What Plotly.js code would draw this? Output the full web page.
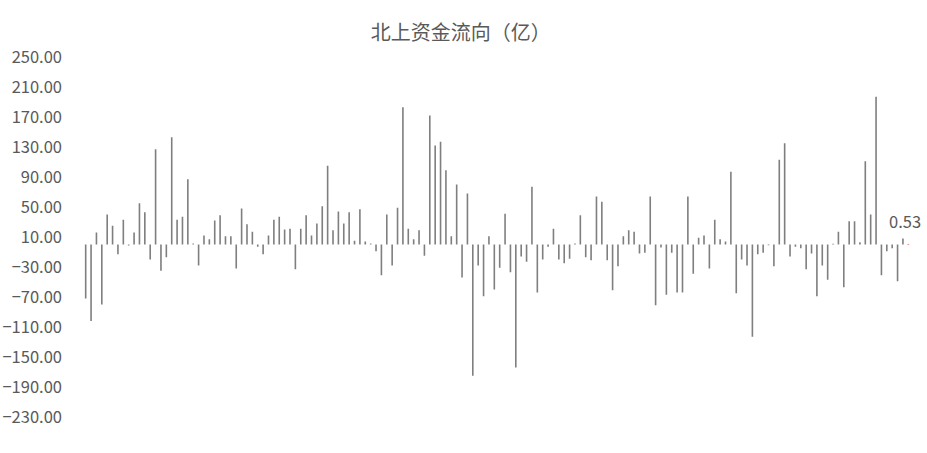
<!DOCTYPE html>
<html>
<head>
<meta charset="utf-8">
<script src="https://cdn.plot.ly/plotly-3.0.1.min.js"></script>
<style>html,body{margin:0;padding:0;background:#fff;}#chart{width:927px;height:453px;}</style>
</head>
<body>
<div id="chart"></div>
<script>
const titleText = "北上资金流向（亿）";
const flows = [
  -72, -102, 16, -80, 40, 25, -13, 33, -1.3, 16,
  55, 43, -20, 127, -35, -17, 143, 33, 37, 87,
  1.3, -28, 12, 7, 32, 39, 11, 11, -32, 48,
  27, 17, -3, -13, 12, 33, 37, 20, 21, -33,
  21, 39, 12, 28, 51, 105, 19, 44, 28, 43,
  5, 47, 4, 1.3, -9, -41, 40, -28, 49, 183,
  21, 7, 19, -15, 172, 132, 137, 99, 11, 80,
  -44, 68, -175, -28, -69, 11, -60, -31, 41, -37,
  -164, -16, -23, 77, -64, -20, -3, 21, -20, -25,
  -19, 1.3, 39, -17, -21, 64, 57, -21, -61, -29,
  11, 19, 17, -12, -11, 64, -81, -4, -67, -11,
  -64, -64, 64, -39, 9, 12, -32, 33, 7, 4,
  97, -65, -20, -28, -123, -13, -11, -1, -29, 113,
  135, -16, -3, -5, -33, -12, -69, -28, -47, 1,
  17, -57, 31, 31, 3, 111, 40, 197, -41, -9,
  -5, -49, 8, 0.53
];
const days = flows.map((v, i) => "D" + (i + 1));
const yTickVals = [250, 210, 170, 130, 90, 50, 10, -30, -70, -110, -150, -190, -230];

const barColors = flows.map((v, i) => i === flows.length - 1 ? "#C00000" : "#7F7F7F");
const lastIdx = flows.length - 1;

const trace = {
  type: "bar",
  x: days,
  y: flows,
  marker: {color: barColors, line: {width: 0}},
  hoverinfo: "x+y"
};

const layout = {
  width: 927,
  height: 453,
  margin: {l: 83, r: 16, t: 57, b: 36},
  paper_bgcolor: "#ffffff",
  plot_bgcolor: "#ffffff",
  font: {family: "'Noto Sans CJK SC', 'Noto Sans', sans-serif", color: "#595959"},
  title: {
    text: titleText,
    font: {size: 20, color: "#595959", family: "'Noto Sans CJK SC', sans-serif"},
    x: 0.497, xref: "container", xanchor: "center",
    y: 1 - 33/453, yref: "container", yanchor: "middle"
  },
  bargap: 0.7,
  showlegend: false,
  xaxis: {
    type: "category",
    showticklabels: false,
    showgrid: false,
    zeroline: false,
    showline: false,
    ticks: "",
    range: [-0.5, flows.length - 0.5]
  },
  yaxis: {
    range: [-230, 250],
    tickvals: yTickVals,
    tickformat: ".2f",
    showgrid: false,
    zeroline: false,
    showline: false,
    ticks: "",
    ticklabelstandoff: 20,
    tickfont: {size: 16.5, color: "#595959", family: "'Noto Sans CJK SC', sans-serif"}
  },
  annotations: [{
    x: days[lastIdx],
    y: flows[lastIdx],
    xref: "x", yref: "y",
    text: flows[lastIdx].toFixed(2),
    showarrow: false,
    xanchor: "center", yanchor: "bottom",
    yshift: 9,
    xshift: -3,
    font: {size: 16.5, color: "#595959", family: "'Noto Sans CJK SC', sans-serif"}
  }]
};

Plotly.newPlot("chart", [trace], layout, {displayModeBar: false, staticPlot: true});
</script>
</body>
</html>
